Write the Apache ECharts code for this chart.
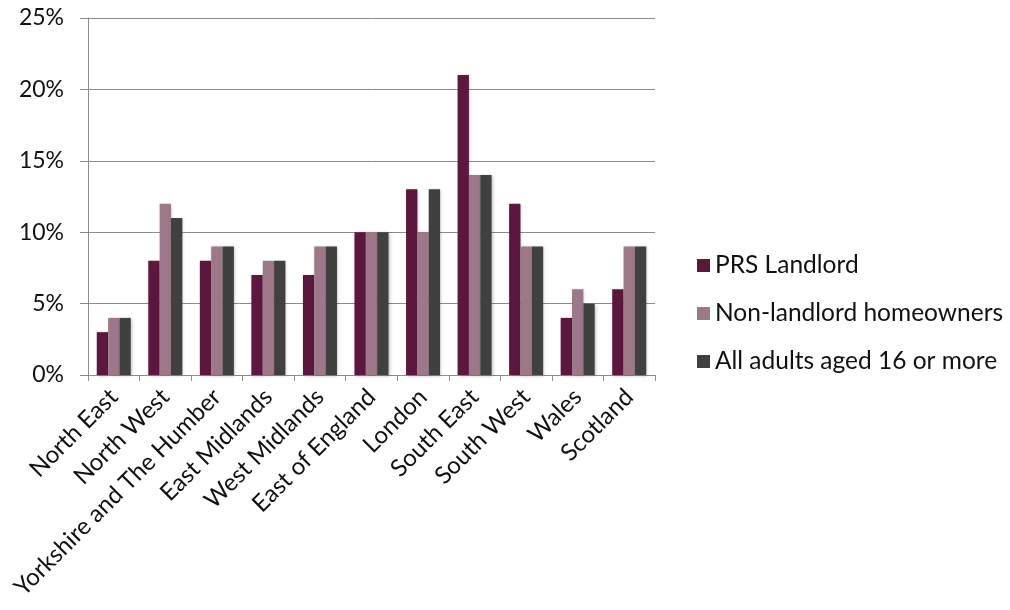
<!DOCTYPE html>
<html><head><meta charset="utf-8">
<script src="https://cdn.jsdelivr.net/npm/echarts@6/dist/echarts.min.js"></script>
<style>html,body{margin:0;padding:0;background:#fff}#c{width:1010px;height:610px}</style>
</head><body><div id="c"></div>
<script>
const categories = ["North East","North West","Yorkshire and The Humber","East Midlands","West Midlands","East of England","London","South East","South West","Wales","Scotland"];
const prsLandlord = [3,8,8,7,7,10,13,21,12,4,6];
const nonLandlord = [4,12,9,8,9,10,10,14,9,6,9];
const allAdults = [4,11,9,8,9,10,13,14,9,5,9];
const seriesNames = ["PRS Landlord","Non-landlord homeowners","All adults aged 16 or more"];
const yTicks = [0,5,10,15,20,25];

const FONT = 'Lato, "Open Sans", sans-serif';
const colors = ['#5C173C','#9C7888','#404040'];
const chart = echarts.init(document.getElementById('c'), null, {renderer:'canvas'});
function mk(name, data, i){
  return {name, type:'bar', data, barGap:'0%', barCategoryGap:'34%',
    itemStyle:{color:colors[i], shadowColor:'rgba(0,0,0,0.25)', shadowBlur:3, shadowOffsetX:1, shadowOffsetY:1}};
}
chart.setOption({
  animation:false,
  backgroundColor:'#fff',
  grid:{left:88, right:355, top:18, bottom:235, containLabel:false},
  legend:{orient:'vertical', left:692, top:248, itemGap:23, itemWidth:13, itemHeight:13,
    icon:'rect', data:seriesNames,
    textStyle:{fontFamily:FONT, fontSize:24.5, color:'#111', padding:[0,0,0,0]}},
  xAxis:{type:'category', data:categories,
    axisLine:{lineStyle:{color:'#8c8c8c', width:1}},
    axisTick:{show:true, length:6, alignWithLabel:false, lineStyle:{color:'#8c8c8c'}},
    axisLabel:{rotate:45, interval:0, margin:18, fontFamily:FONT, fontSize:24, color:'#111'}},
  yAxis:{type:'value', min:0, max:25, interval:5,
    axisLine:{show:true, lineStyle:{color:'#8c8c8c'}},
    axisTick:{show:true, length:8, lineStyle:{color:'#8c8c8c'}},
    splitLine:{lineStyle:{color:'#8c8c8c', width:1}},
    axisLabel:{margin:24, fontFamily:FONT, fontSize:23, color:'#111',
      formatter:v=> yTicks.includes(v) ? v+'%' : ''}},
  series:[mk(seriesNames[0],prsLandlord,0), mk(seriesNames[1],nonLandlord,1), mk(seriesNames[2],allAdults,2)]
});
</script></body></html>
